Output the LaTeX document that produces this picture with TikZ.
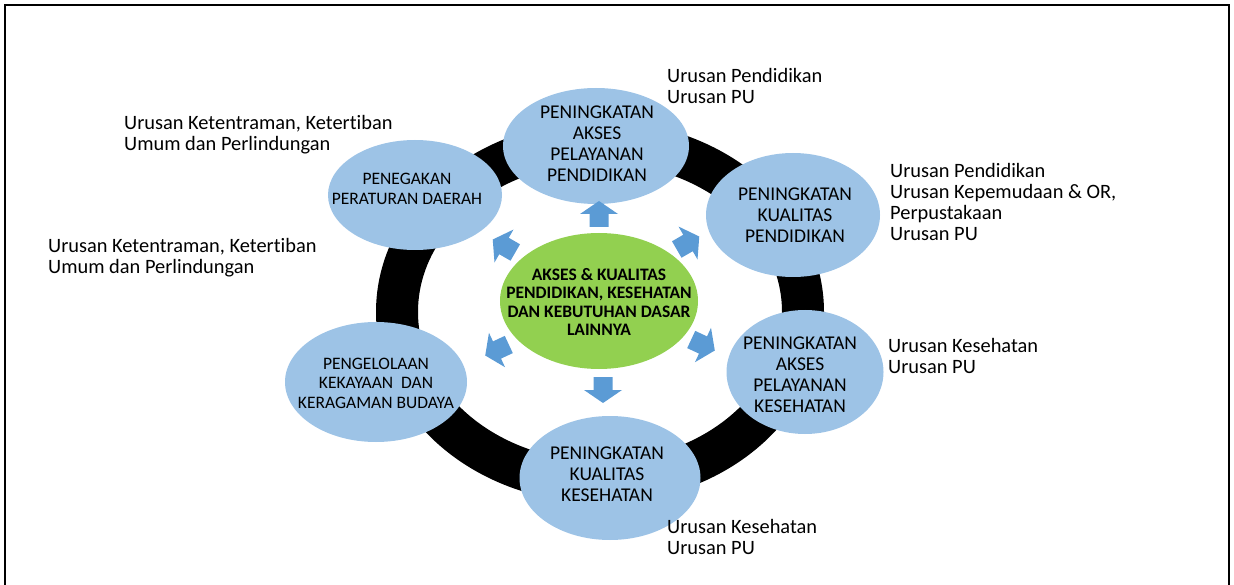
\documentclass[tikz,border=0pt]{standalone}
\usepackage{fontspec}
\setmainfont[Ligatures=NoCommon]{Carlito}
\usetikzlibrary{shapes.geometric}
\definecolor{lblue}{HTML}{9DC3E6}
\definecolor{lgreen}{HTML}{92D050}
\definecolor{ablue}{HTML}{5B9BD5}
\tikzset{
  bub/.style={ellipse, fill=lblue, inner sep=0pt},
  btxt/.style={inner sep=0pt, align=center, font=\fontsize{19.5}{21}\selectfont},
  btxts/.style={btxt, font=\fontsize{17.5}{19.5}\selectfont},
  hub/.style={ellipse, fill=lgreen, inner sep=0pt},
  htxt/.style={inner sep=0pt, align=center, font=\fontsize{17.5}{18.2}\selectfont\bfseries},
  lab/.style={anchor=north west, inner sep=0pt, align=left, font=\fontsize{20.4}{21}\selectfont},
  ring/.style={line width=42pt, black},
  frame/.style={line width=2.5pt, black},
  barrow/.pic={\fill[ablue] (-13,-9.5) -- (0,-9.5) -- (0,-19) -- (13,0) -- (0,19) -- (0,9.5) -- (-13,9.5) -- cycle;}
}
\begin{document}
\begin{tikzpicture}[x=1pt,y=-1pt]
\useasboundingbox (0,0) rectangle (1234,585);
\draw[frame] (5,585) -- (5,5) -- (1229,5) -- (1229,585);
\draw[ring] (600,312) ellipse [x radius=203, y radius=170];

\node[bub, minimum width=186pt, minimum height=116pt] (pap) at (596,146) {};
\node[btxt] (pap-t) at (597,144) {PENINGKATAN\\AKSES\\PELAYANAN\\PENDIDIKAN};
\node[bub, minimum width=174pt, minimum height=110pt] (ppd) at (415,195) {};
\node[btxts] (ppd-t) at (407,189) {PENEGAKAN\\PERATURAN DAERAH};
\node[bub, minimum width=174pt, minimum height=124pt] (pkp) at (793,215) {};
\node[btxt] (pkp-t) at (795,215) {PENINGKATAN\\KUALITAS\\PENDIDIKAN};
\node[bub, minimum width=157pt, minimum height=124pt] (pak) at (805,372) {};
\node[btxt] (pak-t) at (800,375) {PENINGKATAN\\AKSES\\PELAYANAN\\KESEHATAN};
\node[bub, minimum width=181pt, minimum height=124pt] (pkk) at (610,478) {};
\node[btxt] (pkk-t) at (607,474) {PENINGKATAN\\KUALITAS\\KESEHATAN};
\node[bub, minimum width=182pt, minimum height=120pt] (pkb) at (376,382) {};
\node[btxts] (pkb-t) at (376,383) {PENGELOLAAN\\KEKAYAAN\ \ DAN\\KERAGAMAN BUDAYA};

\node[hub, minimum width=198pt, minimum height=136pt] (hub) at (599,301) {};
\node[htxt] (hub-t) at (599,302) {AKSES \& KUALITAS\\PENDIDIKAN, KESEHATAN\\DAN KEBUTUHAN DASAR\\LAINNYA};

\pic[rotate=90] at (599,214) {barrow};
\pic[rotate=-90] at (603,390) {barrow};
\pic[rotate=150] at (504,246) {barrow};
\pic[rotate=30] at (688,243) {barrow};
\pic[rotate=205] at (497,350) {barrow};
\pic[rotate=-25] at (703,345) {barrow};

\node[lab] (l1) at (667,68) {Urusan Pendidikan\\Urusan PU};
\node[lab] (l2) at (124,115) {Urusan Ketentraman, Ketertiban\\Umum dan Perlindungan};
\node[lab] (l3) at (890,163) {Urusan Pendidikan\\Urusan Kepemudaan \& OR,\\Perpustakaan\\Urusan PU};
\node[lab] (l4) at (48,238) {Urusan Ketentraman, Ketertiban\\Umum dan Perlindungan};
\node[lab] (l5) at (888,338) {Urusan Kesehatan\\Urusan PU};
\node[lab] (l6) at (667,519) {Urusan Kesehatan\\Urusan PU};
\end{tikzpicture}
\end{document}
